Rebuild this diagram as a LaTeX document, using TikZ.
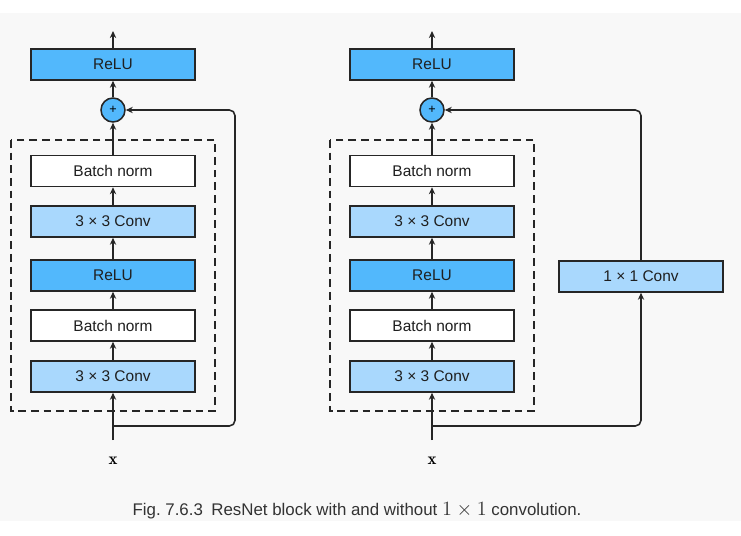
\documentclass[tikz,border=0pt]{standalone}
\usepackage{fontspec}
\setsansfont{Liberation Sans}
\usetikzlibrary{arrows.meta}
\definecolor{relublue}{HTML}{52B8FC}
\definecolor{convblue}{HTML}{A9D8FD}
\definecolor{pagegray}{HTML}{F8F8F8}
\tikzset{
  layer/.style={draw=black!85, line width=1.1pt, minimum width=4.1cm, minimum height=0.775cm,
    inner sep=0pt, font=\sffamily\fontsize{11}{13}\selectfont, text=black!88},
  relu/.style={layer, fill=relublue},
  conv/.style={layer, fill=convblue},
  norm/.style={layer, fill=white},
  adder/.style={circle, draw=black!85, fill=relublue, line width=1.1pt, minimum size=0.6cm,
    inner sep=0pt, font=\sffamily\fontsize{9}{10}\selectfont},
  flow/.style={-{Stealth[length=5pt,width=4.5pt]}, line width=1.1pt, draw=black!85},
  blockbox/.style={dashed, dash pattern=on 5.5pt off 3.5pt, line width=1.1pt, draw=black!85},
}
\begin{document}
\begin{tikzpicture}[x=0.025cm, y=-0.025cm]
  \useasboundingbox (0,0) rectangle (741,536);
  \fill[pagegray] (0,13) rectangle (741,521);
  % the two residual blocks
  \foreach \b/\cx in {L/113, R/432} {
    \begin{scope}[shift={(\cx,0)}]
      \draw[blockbox] (-102,140) rectangle (102,411);
      \node[relu] (\b-out) at (0,64.5) {ReLU};
      \node[adder] (\b-add) at (0,110) {+};
      \node[norm] (\b-bn2) at (0,171) {Batch norm};
      \node[conv] (\b-conv2) at (0,221.5) {3 × 3 Conv};
      \node[relu] (\b-relu) at (0,275.5) {ReLU};
      \node[norm] (\b-bn1) at (0,325.5) {Batch norm};
      \node[conv] (\b-conv1) at (0,376.5) {3 × 3 Conv};
      \node[font=\large] (\b-x) at (0,461) {$\mathbf{x}$};
      \coordinate (\b-in) at (0,440);
      \coordinate (\b-split) at (0,426);
      \coordinate (\b-top) at (0,31);
      \foreach \u/\v in {in/conv1, conv1/bn1, bn1/relu, relu/conv2, conv2/bn2, bn2/add, add/out, out/top}
        \draw[flow] (\b-\u) -- (\b-\v);
    \end{scope}
  }
  % shortcuts
  \coordinate (L-turn) at (235,426);
  \draw[flow, rounded corners=4pt] (L-split) -- (L-turn) |- (L-add);
  \node[conv] (R-short) at (641,276.5) {1 × 1 Conv};
  \draw[flow, rounded corners=4pt] (R-split) -| (R-short);
  \draw[flow, rounded corners=4pt] (R-short) |- (R-add);
  % caption
  \node[font=\sffamily\fontsize{12}{14}\selectfont, text=black!80] (caption) at (357,511)
    {Fig.~7.6.3\enspace ResNet block with and without {\fontsize{14}{14}\selectfont$1\times1$} convolution.};
\end{tikzpicture}
\end{document}
